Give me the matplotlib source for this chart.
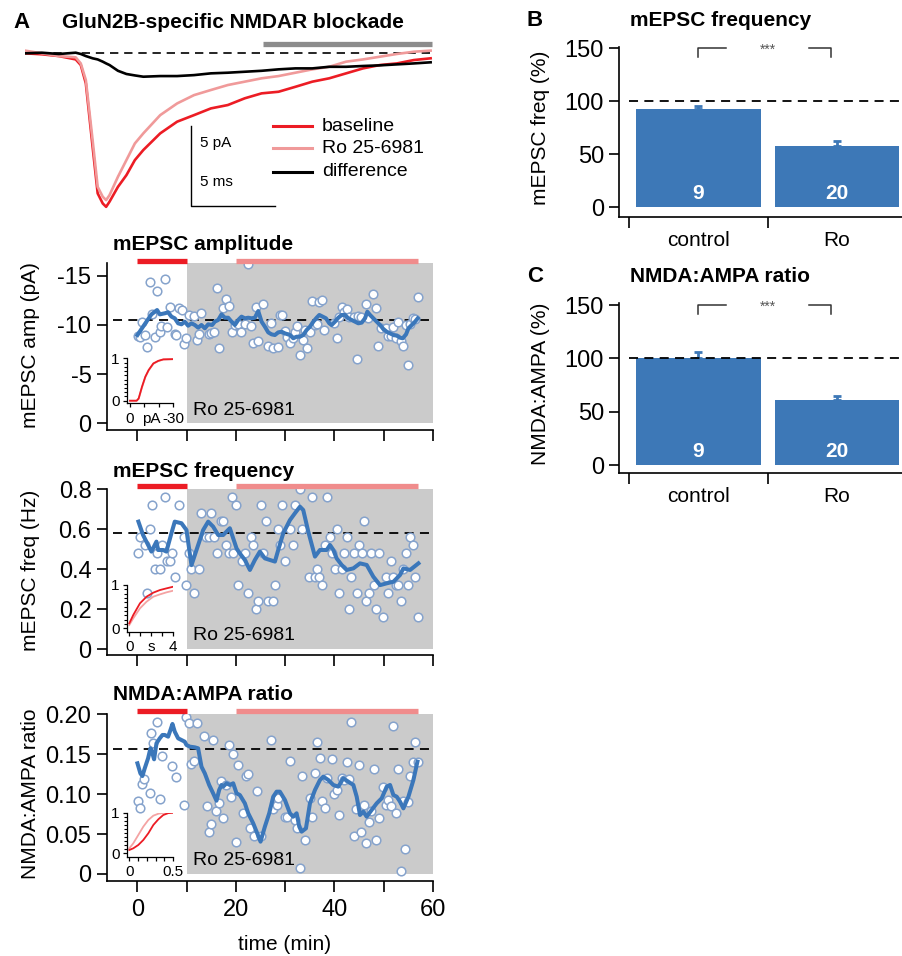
import numpy as np
import matplotlib.pyplot as plt

plt.rcParams['font.family'] = ['Liberation Sans', 'DejaVu Sans']
plt.rcParams['axes.linewidth'] = 1.2

RED = '#ec1c24'
PINK = '#f08c8c'
SHADE = '#cbcbcb'
BLUE = '#3b77ba'
MARK_EDGE = '#86a3cc'
BAR_BLUE = '#3d78b7'

# ---- averaged mEPSC traces (ms, pA) ----
trace_t = [0, 1, 2, 3, 3.3, 3.6, 4, 4.3, 4.6, 4.8, 5, 5.5, 6, 6.5, 7,
           8, 9, 10, 11, 12, 13, 14, 15, 16, 17, 18, 19, 20, 21, 22, 23, 24]
trace_base = [-0.04, -0.1, -0.21, -0.42, -0.77, -1.92, -5.88, -8.79, -9.42, -9.63,
              -9.31, -8.38, -7.65, -6.71, -6.08, -5.04, -4.31, -3.9, -3.48, -3.27,
              -2.85, -2.54, -2.44, -2.13, -1.81, -1.6, -1.29, -0.98, -0.77, -0.67,
              -0.46, -0.35]
trace_ro = [0.13, -0.04, -0.21, -0.29, -0.67, -1.71, -5.46, -8.38, -9.0, -9.21,
            -8.9, -7.75, -6.71, -5.67, -5.04, -3.9, -3.17, -2.65, -2.33, -2.02,
            -1.81, -1.6, -1.46, -1.25, -1.04, -0.88, -0.56, -0.42, -0.25, -0.08,
            0.06, 0.13]
trace_diff = [-0.04, 0, -0.08, 0, -0.08, -0.21, -0.35, -0.42, -0.56, -0.67,
              -0.77, -1.13, -1.33, -1.42, -1.5, -1.46, -1.46, -1.4, -1.29, -1.25,
              -1.19, -1.13, -1.04, -0.98, -0.98, -0.88, -0.88, -0.83, -0.79, -0.73,
              -0.67, -0.6]

# ---- mEPSC amplitude time course (min, pA) ----
amp_t = [0.13, 0.53, 0.94, 1.48, 2.03, 2.5, 3.04, 3.52, 3.99, 4.53, 4.74, 5.55, 6.02,
         6.57, 7.58, 7.92, 8.46, 9.07, 9.48, 9.95, 10.49, 11.51, 11.99, 12.46, 13.0,
         14.49, 14.9, 15.58, 16.05, 16.52, 17.47, 18.01, 18.56, 19.1, 19.78, 20.32,
         21.0, 21.8, 22.49, 23.03, 23.5, 23.98, 24.52, 25.53, 26.55, 27.03, 27.57,
         28.45, 28.92, 29.4, 29.94, 30.41, 30.96, 31.5, 31.97, 32.45, 32.99, 33.53,
         34.0, 34.48, 35.02, 35.49, 36.04, 36.38, 36.92, 37.46, 37.93, 39.9, 40.44,
         40.98, 41.46, 41.93, 42.47, 43.01, 43.96, 44.51, 44.84, 45.39, 46.4, 46.88,
         47.89, 48.43, 48.91, 49.38, 50.47, 50.94, 51.48, 51.96, 52.43, 52.97, 53.45,
         53.99, 54.47, 54.87, 55.35, 55.89, 56.36, 56.9]
amp_v = [-8.91, -8.8, -10.33, -8.97, -7.79, -14.39, -11.07, -8.8, -13.45, -9.24,
         -9.89, -14.63, -9.79, -11.85, -9.04, -8.97, -11.75, -11.51, -8.03, -8.7,
         -11.01, -10.94, -8.47, -9.04, -11.18, -9.04, -9.14, -9.31, -13.72, -7.62,
         -11.75, -12.6, -11.92, -9.31, -9.99, -10.06, -9.24, -10.06, -16.16, -9.89,
         -8.19, -11.79, -8.36, -12.12, -7.89, -10.23, -7.62, -7.75, -11.01, -11.01,
         -9.38, -8.8, -8.13, -8.64, -9.24, -9.92, -6.94, -8.47, -9.48, -7.69,
         -9.31, -12.46, -9.99, -10.06, -12.36, -12.5, -9.48, -10.16, -8.7, -10.84,
         -11.82, -11.28, -11.62, -10.84, -10.84, -6.53, -10.94, -10.84, -12.09, -10.67,
         -13.11, -11.75, -7.89, -9.65, -9.72, -8.91, -8.91, -9.82, -8.7, -10.26,
         -8.4, -7.86, -9.99, -5.92, -10.06, -10.73, -10.6, -12.8]
amp_run_t = [0.0, 1.14, 2.84, 3.99, 4.53, 5.55, 6.23, 6.9, 7.58, 8.26, 8.94, 9.61,
             10.29, 10.97, 11.65, 12.32, 13.0, 13.68, 14.36, 15.17, 15.71, 16.39,
             17.07, 17.74, 18.42, 19.1, 19.78, 20.46, 21.13, 21.81, 22.49, 23.17,
             23.84, 24.52, 25.2, 25.87, 26.55, 27.23, 27.9, 28.58, 29.26, 29.94,
             30.96, 31.63, 32.31, 32.99, 33.66, 34.34, 35.02, 35.7, 36.38, 36.92,
             37.6, 38.27, 38.95, 39.42, 40.1, 40.78, 41.46, 42.13, 42.81, 43.49,
             44.17, 44.84, 45.52, 46.2, 46.67, 47.22, 47.89, 48.57, 49.25, 49.93,
             50.6, 51.28, 51.96, 52.64, 53.31, 53.86, 54.53, 55.01, 55.69, 56.36, 56.9]
amp_run_v = [-8.97, -9.82, -11.07, -11.51, -11.07, -11.18, -11.28, -10.84, -10.67,
             -10.16, -10.06, -10.33, -9.92, -10.16, -9.99, -9.72, -9.99, -9.65, -10.06,
             -9.99, -10.33, -10.5, -11.07, -10.73, -10.73, -10.33, -9.99, -10.5, -10.84,
             -10.67, -10.73, -10.67, -10.73, -11.41, -10.33, -9.82, -9.24, -9.04, -8.97,
             -9.24, -9.31, -9.14, -8.97, -8.64, -8.8, -8.8, -8.97, -9.48, -9.82, -10.33,
             -10.73, -11.01, -10.84, -10.67, -10.16, -9.99, -10.33, -10.73, -11.01,
             -11.01, -10.67, -10.5, -10.33, -10.16, -10.23, -10.67, -11.34, -11.01,
             -10.67, -10.33, -9.99, -9.58, -9.31, -9.14, -8.97, -8.91, -8.7, -8.64,
             -9.04, -9.65, -9.99, -10.33, -10.67]
amp_cdf_x = [0, -4.6, -6.0, -8.3, -10.6, -12.9, -16.2, -19.6, -23.1, -30]
amp_cdf_base = [0, 0, 0.055, 0.33, 0.566, 0.723, 0.88, 0.94, 0.975, 0.98]
amp_cdf_ro = [0, 0, 0.04, 0.31, 0.55, 0.71, 0.87, 0.935, 0.97, 0.98]

# ---- mEPSC frequency time course (min, Hz) ----
freq_t = [0.13, 0.47, 1.48, 2.03, 2.5, 3.04, 3.52, 3.99, 4.53, 5.07, 5.55, 6.02, 6.57,
          7.04, 7.58, 8.46, 9.48, 9.95, 10.49, 10.97, 11.51, 12.46, 13.0, 13.88, 14.49,
          15.03, 15.58, 16.05, 16.93, 17.4, 18.01, 18.56, 19.1, 19.5, 20.05, 20.46,
          21.13, 21.81, 22.49, 23.03, 23.5, 23.98, 24.52, 24.99, 25.53, 26.0, 26.55,
          27.43, 27.9, 28.45, 28.92, 29.4, 29.94, 30.96, 31.5, 31.97, 32.99, 33.46,
          34.88, 35.49, 35.97, 36.44, 36.92, 37.46, 38.0, 38.48, 39.02, 39.5, 40.04,
          40.51, 40.98, 41.52, 42.0, 42.47, 42.95, 43.42, 43.96, 44.51, 44.98, 45.52,
          45.93, 46.47, 46.94, 47.48, 47.96, 48.5, 48.97, 49.92, 50.47, 50.94, 51.48,
          51.96, 52.43, 52.97, 53.45, 53.99, 54.47, 54.94, 55.42, 55.96, 56.43, 56.9]
freq_v = [0.48, 0.56, 0.52, 0.28, 0.60, 0.72, 0.40, 0.48, 0.40, 0.52, 0.76, 0.44, 0.44,
          0.48, 0.36, 0.72, 0.56, 0.32, 0.48, 0.40, 0.28, 0.40, 0.68, 0.56, 0.56,
          0.68, 0.56, 0.48, 0.64, 0.64, 0.52, 0.48, 0.76, 0.48, 0.72, 0.32,
          0.44, 0.48, 0.28, 0.56, 0.52, 0.20, 0.24, 0.72, 0.48, 0.64, 0.24,
          0.24, 0.32, 0.60, 0.52, 0.72, 0.44, 0.60, 0.52, 0.72, 0.80, 0.60,
          0.36, 0.76, 0.36, 0.40, 0.36, 0.32, 0.52, 0.76, 0.56, 0.48, 0.40,
          0.60, 0.28, 0.40, 0.48, 0.56, 0.20, 0.36, 0.48, 0.28, 0.52, 0.48,
          0.64, 0.24, 0.28, 0.48, 0.32, 0.20, 0.48, 0.16, 0.36, 0.28, 0.44,
          0.36, 0.32, 0.32, 0.24, 0.40, 0.48, 0.32, 0.56, 0.52, 0.36, 0.16]
freq_run_t = [0.2, 1.14, 2.84, 3.86, 4.19, 5.21, 5.88, 6.9, 7.58, 8.94, 9.95, 10.97,
              11.99, 13.34, 14.36, 15.37, 16.39, 17.4, 18.76, 20.12, 20.79, 21.81,
              22.83, 23.84, 24.86, 25.87, 26.89, 27.91, 28.58, 29.6, 30.96, 31.97,
              32.99, 33.66, 34.68, 36.04, 37.05, 38.41, 39.09, 39.77, 40.44, 41.46,
              42.47, 43.83, 45.18, 46.54, 47.89, 49.25, 50.6, 51.96, 53.31, 53.99,
              55.35, 57.04]
freq_run_v = [0.638, 0.571, 0.488, 0.538, 0.496, 0.496, 0.488, 0.58, 0.638, 0.63,
              0.596, 0.42, 0.496, 0.596, 0.638, 0.613, 0.571, 0.571, 0.605, 0.504,
              0.479, 0.446, 0.396, 0.446, 0.488, 0.454, 0.446, 0.438, 0.496, 0.58,
              0.646, 0.68, 0.713, 0.696, 0.588, 0.463, 0.496, 0.496, 0.521, 0.496,
              0.454, 0.421, 0.396, 0.404, 0.429, 0.421, 0.362, 0.32, 0.329, 0.337,
              0.371, 0.404, 0.396, 0.429]
freq_cdf_x = [0.0, 0.36, 0.97, 1.57, 2.18, 2.79, 3.39, 4.0]
freq_cdf_base = [0.115, 0.307, 0.577, 0.73, 0.823, 0.884, 0.923, 0.961]
freq_cdf_ro = [0.076, 0.23, 0.461, 0.615, 0.73, 0.784, 0.831, 0.869]

# ---- NMDA:AMPA ratio time course (min, ratio) ----
nmda_t = [0.13, 0.53, 1.01, 1.35, 2.5, 2.84, 3.18, 3.99, 4.53, 5.07, 7.04, 7.92, 9.48,
          9.95, 10.49, 10.97, 11.51, 12.05, 13.54, 14.02, 14.49, 14.9, 15.44, 15.98,
          16.52, 16.93, 17.47, 18.01, 18.56, 18.96, 19.5, 19.98, 20.46, 21.47, 21.94,
          22.49, 22.89, 23.71, 24.18, 24.99, 27.03, 27.57, 28.25, 28.59, 29.94, 30.41,
          30.96, 31.97, 32.45, 33.0, 33.46, 34.0, 35.02, 35.49, 35.97, 36.51, 36.98,
          37.46, 38.0, 38.48, 39.5, 39.97, 40.51, 40.98, 41.52, 42.0, 42.47, 42.95,
          43.42, 43.96, 44.44, 44.98, 45.45, 45.99, 46.47, 46.94, 47.48, 47.96, 48.5,
          48.97, 49.92, 50.47, 50.94, 51.48, 51.96, 52.43, 52.97, 53.45, 53.92, 54.4,
          54.94, 55.42, 55.89, 56.36, 56.9]
nmda_v = [0.092, 0.083, 0.113, 0.119, 0.102, 0.176, 0.164, 0.19, 0.0935, 0.148, 0.135,
          0.121, 0.087, 0.196, 0.189, 0.138, 0.141, 0.189, 0.173, 0.0856, 0.053, 0.063,
          0.168, 0.079, 0.089, 0.117, 0.07, 0.111, 0.162, 0.097, 0.15, 0.04, 0.136,
          0.076, 0.123, 0.125, 0.058, 0.047, 0.104, 0.048, 0.168, 0.081, 0.087, 0.095,
          0.0718, 0.0718, 0.1415, 0.0676, 0.0572, 0.007, 0.1231, 0.0426, 0.0956, 0.0718,
          0.126, 0.1649, 0.1457, 0.0918, 0.0822, 0.1198, 0.144, 0.0998, 0.1052, 0.0739,
          0.1198, 0.1177, 0.1398, 0.119, 0.19, 0.048, 0.0814, 0.1365, 0.0522, 0.0864,
          0.0384, 0.0647, 0.0789, 0.1315, 0.0426, 0.0705, 0.1094, 0.0864, 0.0927,
          0.0852, 0.1858, 0.076, 0.1315, 0.0038, 0.0914, 0.0313, 0.0906, 0.1227,
          0.1407, 0.1649, 0.1407]
nmda_run_t = [0.0, 0.6, 1.01, 1.48, 2.16, 2.64, 3.04, 3.38, 3.86, 4.53, 5.08, 5.55,
              6.23, 6.7, 7.11, 7.58, 8.26, 8.94, 9.61, 9.95, 10.63, 11.65, 12.32, 13.0,
              13.68, 14.56, 15.37, 16.05, 16.59, 17.07, 17.4, 18.08, 18.76, 19.44,
              20.12, 20.79, 21.81, 22.49, 23.5, 24.32, 24.99, 25.87, 26.75, 27.57,
              28.25, 28.92, 29.94, 30.96, 31.63, 32.31, 32.85, 33.33, 34.21, 35.02,
              36.04, 37.05, 37.73, 38.75, 39.76, 40.78, 41.79, 42.81, 43.83, 44.51,
              45.18, 45.86, 46.54, 47.55, 48.57, 49.59, 50.6, 51.28, 51.96, 52.64,
              53.31, 53.99, 55.01, 56.02, 56.84]
nmda_run_v = [0.1386, 0.126, 0.1227, 0.1323, 0.1449, 0.1574, 0.1511, 0.1436, 0.1636,
              0.1699, 0.1741, 0.1741, 0.172, 0.1803, 0.1879, 0.1782, 0.1699, 0.1678,
              0.1657, 0.1616, 0.1595, 0.1586, 0.1574, 0.1344, 0.126, 0.1115, 0.101,
              0.0918, 0.1052, 0.1115, 0.1094, 0.1136, 0.1115, 0.1136, 0.101, 0.0989,
              0.0885, 0.076, 0.0635, 0.0509, 0.0405, 0.0593, 0.076, 0.0968, 0.1031,
              0.1031, 0.0927, 0.076, 0.0718, 0.076, 0.0593, 0.053, 0.0572, 0.0885,
              0.1052, 0.1177, 0.1219, 0.1177, 0.1115, 0.1094, 0.1198, 0.1156, 0.1115,
              0.0968, 0.0739, 0.0781, 0.0718, 0.0802, 0.0885, 0.0948, 0.1094, 0.1115,
              0.0989, 0.0968, 0.0906, 0.0822, 0.0968, 0.1177, 0.1407]
nmda_cdf_x = [0.0, 0.045, 0.102, 0.159, 0.216, 0.273, 0.33, 0.386, 0.443, 0.5]
nmda_cdf_base = [0.081, 0.122, 0.204, 0.327, 0.492, 0.697, 0.837, 0.943, 0.99, 1.0]
nmda_cdf_ro = [0.122, 0.245, 0.45, 0.656, 0.82, 0.927, 0.975, 0.995, 1.0, 1.0]

# ---- summary bars (% of baseline) ----
groups = ['control', 'Ro']
freq_pct = [92.7, 58.1]
freq_pct_err = [3.1, 4.7]
ratio_pct = [100.3, 61.0]
ratio_pct_err = [5.6, 4.0]
n_cells = ['9', '20']

TICK_FS = 17
LABEL_FS = 15

W, H = 902, 956
fig = plt.figure(figsize=(W / 100, H / 100), dpi=100)


def px_axes(x0, y0, x1, y1):
    # axes from a pixel box, y measured from the top edge
    return fig.add_axes([x0 / W, 1 - y1 / H, (x1 - x0) / W, (y1 - y0) / H])


def px_text(x, y, s, **kw):
    fig.text(x / W, 1 - y / H, s, **kw)


def clean(ax):
    for s in ['top', 'right']:
        ax.spines[s].set_visible(False)
    ax.patch.set_visible(False)


# ---------------- A: example traces ----------------
ax = px_axes(25, 35, 433, 215)
ax.set_xlim(0, 24.14)
ax.set_ylim(-10.14, 1.106)
ax.axis('off')
ax.plot([0, 24.14], [0, 0], color='black', lw=1.2, dashes=(5, 3.5))
ax.plot([14.06, 24.1], [0.53, 0.53], color='#8c8c8c', lw=3.8, solid_capstyle='butt')
ax.plot(trace_t, trace_base, color=RED, lw=1.9)
ax.plot(trace_t, trace_ro, color='#f09a9a', lw=1.9)
ax.plot(trace_t, trace_diff, color='black', lw=1.9)
ax.plot([9.8, 9.8, 14.8], [-4.58, -9.58, -9.58], color='black', lw=1.0)
ax.text(10.36, -5.65, '5 pA', fontsize=11, va='center')
ax.text(10.36, -8.06, '5 ms', fontsize=11, va='center')
for y, c, lab in [(-4.58, RED, 'baseline'), (-5.96, '#f09a9a', 'Ro 25-6981'),
                  (-7.45, 'black', 'difference')]:
    ax.plot([14.67, 16.98], [y, y], color=c, lw=2.2)
    ax.text(17.57, y, lab, fontsize=14, va='center')

px_text(13, 22, 'A', fontsize=16, fontweight='bold', va='center')
px_text(62, 22, 'GluN2B-specific NMDAR blockade', fontsize=15, fontweight='bold', va='center')


def time_course(box, t, v, rt, rv, ylim, yticks, ylabels, top, base, bar_y, txt_y,
                xlabels):
    ax = px_axes(*box)
    ax.set_xlim(-6.24, 60.0)
    ax.set_ylim(*ylim)
    ax.fill_between([10, 60], 0, top, color=SHADE, lw=0, zorder=0)
    ax.plot([-5, 60], [base, base], color='black', lw=1.3, dashes=(5, 3.5), zorder=1)
    ax.plot(t, v, 'o', ms=6.2, mfc='white', mec=MARK_EDGE, mew=1.1, zorder=2)
    ax.plot(rt, rv, color=BLUE, lw=2.9, zorder=3)
    ax.plot([0, 10], [bar_y, bar_y], color=RED, lw=3.8, solid_capstyle='butt', clip_on=False)
    ax.plot([20, 56.9], [bar_y, bar_y], color=PINK, lw=3.8, solid_capstyle='butt',
            clip_on=False)
    ax.text(11.2, txt_y, 'Ro 25-6981', fontsize=14, va='center')
    clean(ax)
    ax.set_xticks([0, 10, 20, 30, 40, 50, 60])
    if xlabels:
        ax.set_xticklabels(['0', '', '20', '', '40', '', '60'])
    else:
        ax.tick_params(axis='x', labelbottom=False)
    ax.set_yticks(yticks)
    ax.set_yticklabels(ylabels)
    ax.tick_params(axis='x', length=8, width=1.2, labelsize=TICK_FS, pad=5)
    ax.tick_params(axis='y', length=7, width=1.2, labelsize=TICK_FS, pad=4)
    return ax


def cdf_inset(box, xlim, xticks, left_lab, mid_lab, right_lab, x, yb, yr, ylow):
    ax = px_axes(*box)
    ax.set_xlim(*xlim)
    ax.set_ylim(ylow, 1.0)
    ax.plot(x, yr, color='#f4a3a3', lw=1.3)
    ax.plot(x, yb, color=RED, lw=1.3)
    clean(ax)
    ax.set_xticks(xticks)
    ax.set_xticklabels([''] * len(xticks))
    ax.set_yticks([0, 1])
    ax.set_yticklabels(['0', '1'])
    ax.set_yticks(np.arange(0.1, 1.0, 0.1), minor=True)
    ax.tick_params(axis='both', which='major', length=3, width=0.9, labelsize=11, pad=2)
    ax.tick_params(axis='y', which='minor', length=2, width=0.8)
    for sp in ax.spines.values():
        sp.set_linewidth(0.9)
    xt = ax.get_xaxis_transform()
    for xv, lab in [(xticks[0], left_lab), ((xticks[0] + xticks[-1]) / 2, mid_lab),
                    (xticks[-1], right_lab)]:
        ax.annotate(lab, xy=(xv, 0), xycoords=xt, xytext=(0, -11),
                    textcoords='offset points', fontsize=11, ha='center', va='center')
    return ax


# amplitude
time_course((106.7, 263.3, 433, 430), amp_t, amp_v, amp_run_t, amp_run_v,
            (0.68, -16.26), [0, -5, -10, -15], ['0', '-5', '-10', '-15'],
            -16.26, -10.5, -16.51, -1.35, False)
cdf_inset((126.7, 358.3, 173.3, 403.3), (2.29, -30), [0, -10, -20, -30],
          '0', 'pA', '-30', amp_cdf_x, amp_cdf_base, amp_cdf_ro, -0.061)
px_text(113, 245, 'mEPSC amplitude', fontsize=15, fontweight='bold', va='center')
px_text(31, 345, 'mEPSC amp (pA)', fontsize=LABEL_FS, rotation=90, ha='center', va='center')

# frequency
time_course((106.7, 489.3, 433, 655), freq_t, freq_v, freq_run_t, freq_run_v,
            (-0.03, 0.8), [0, 0.2, 0.4, 0.6, 0.8], ['0', '0.2', '0.4', '0.6', '0.8'],
            0.8, 0.58, 0.818, 0.07, False)
cdf_inset((126.7, 585, 173.3, 631.7), (-0.236, 4), [0, 1, 2, 3, 4],
          '0', 's', '4', freq_cdf_x, freq_cdf_base, freq_cdf_ro, -0.079)
px_text(113, 471.7, 'mEPSC frequency', fontsize=15, fontweight='bold', va='center')
px_text(31, 570, 'mEPSC freq (Hz)', fontsize=LABEL_FS, rotation=90, ha='center', va='center')

# NMDA:AMPA
time_course((106.7, 714.3, 433, 880.7), nmda_t, nmda_v, nmda_run_t, nmda_run_v,
            (-0.0084, 0.2), [0, 0.05, 0.10, 0.15, 0.20],
            ['0', '0.05', '0.10', '0.15', '0.20'],
            0.2, 0.156, 0.2044, 0.0175, True)
cdf_inset((126.7, 812.7, 173.3, 856.7), (-0.0295, 0.5), [0, 0.1, 0.2, 0.3, 0.4, 0.5],
          '0', '', '0.5', nmda_cdf_x, nmda_cdf_base, nmda_cdf_ro, -0.084)
px_text(113, 695, 'NMDA:AMPA ratio', fontsize=15, fontweight='bold', va='center')
px_text(31, 794, 'NMDA:AMPA ratio', fontsize=LABEL_FS, rotation=90, ha='center', va='center')
px_text(285, 945, 'time (min)', fontsize=LABEL_FS, ha='center', va='center')


# ---------------- B / C: summary bars ----------------
def summary(box, ylim, vals, errs, bracket_low, n_y):
    ax = px_axes(*box)
    ax.set_xlim(-0.072, 1.97)
    ax.set_ylim(*ylim)
    pos = [0.5, 1.5]
    ax.bar(pos, vals, width=0.896, color=BAR_BLUE, zorder=2)
    ax.errorbar(pos, vals, yerr=[[0, 0], errs], fmt='none', ecolor=BAR_BLUE,
                elinewidth=2, capsize=3, capthick=2, zorder=2)
    ax.plot([0, 1.97], [100, 100], color='black', lw=1.3, dashes=(5, 3.5), zorder=3)
    for p, n in zip(pos, n_cells):
        ax.text(p, n_y, n, color='white', fontsize=15, fontweight='bold',
                ha='center', va='center', zorder=4)
    ax.plot([0.499, 0.499, 0.699], [bracket_low, 150, 150], color='#333333', lw=1.1)
    ax.plot([1.30, 1.457, 1.457], [150, 150, bracket_low], color='#333333', lw=1.1)
    ax.text(1.0, 148.5, '***', fontsize=10, color='#555555', ha='center', va='center')
    clean(ax)
    ax.set_yticks([0, 50, 100, 150])
    ax.set_xticks([0, 1])
    ax.set_xticklabels(['', ''])
    ax.set_xticks(pos, minor=True)
    ax.set_xticklabels(groups, minor=True)
    ax.tick_params(axis='x', which='major', length=8, width=1.2)
    ax.tick_params(axis='x', which='minor', length=0, labelsize=LABEL_FS, pad=10)
    ax.tick_params(axis='y', length=7, width=1.2, labelsize=TICK_FS, pad=4)
    return ax


summary((619.3, 46.7, 902, 216.7), (-8.8, 151.5), freq_pct, freq_pct_err, 142.1, 13.2)
px_text(527, 20, 'B', fontsize=16, fontweight='bold', va='center')
px_text(630, 20, 'mEPSC frequency', fontsize=15, fontweight='bold', va='center')
px_text(541, 127.5, 'mEPSC freq (%)', fontsize=LABEL_FS, rotation=90, ha='center', va='center')

summary((619.3, 303.3, 902, 472.7), (-7.2, 151.6), ratio_pct, ratio_pct_err, 141.4, 12.5)
px_text(527, 277, 'C', fontsize=16, fontweight='bold', va='center')
px_text(630, 277, 'NMDA:AMPA ratio', fontsize=15, fontweight='bold', va='center')
px_text(541, 384, 'NMDA:AMPA (%)', fontsize=LABEL_FS, rotation=90, ha='center', va='center')

fig.savefig('out.png', dpi=100)
